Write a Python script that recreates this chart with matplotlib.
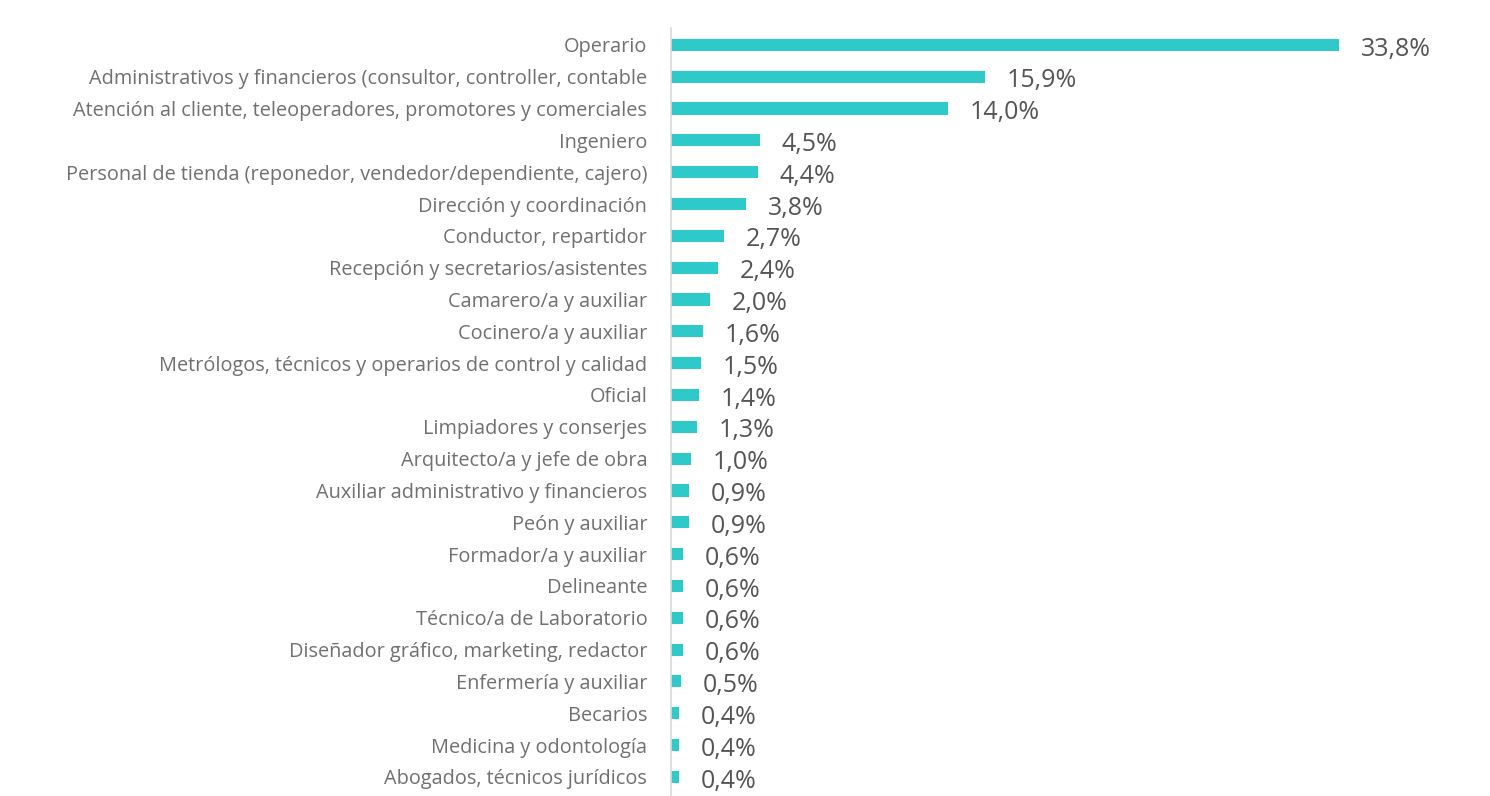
import matplotlib.pyplot as plt

# Data from the chart
categories = [
    'Operario',
    'Administrativos y financieros (consultor, controller, contable',
    'Atención al cliente, teleoperadores, promotores y comerciales',
    'Ingeniero',
    'Personal de tienda (reponedor, vendedor/dependiente, cajero)',
    'Dirección y coordinación',
    'Conductor, repartidor',
    'Recepción y secretarios/asistentes',
    'Camarero/a y auxiliar',
    'Cocinero/a y auxiliar',
    'Metrólogos, técnicos y operarios de control y calidad',
    'Oficial',
    'Limpiadores y conserjes',
    'Arquitecto/a y jefe de obra',
    'Auxiliar administrativo y financieros',
    'Peón y auxiliar',
    'Formador/a y auxiliar',
    'Delineante',
    'Técnico/a de Laboratorio',
    'Diseñador gráfico, marketing, redactor',
    'Enfermería y auxiliar',
    'Becarios',
    'Medicina y odontología',
    'Abogados, técnicos jurídicos',
]
percentages = [33.8, 15.9, 14.0, 4.5, 4.4, 3.8, 2.7, 2.4, 2.0, 1.6, 1.5, 1.4,
               1.3, 1.0, 0.9, 0.9, 0.6, 0.6, 0.6, 0.6, 0.5, 0.4, 0.4, 0.4]

plt.rcParams['font.family'] = ['Open Sans', 'DejaVu Sans']

fig = plt.figure(figsize=(14.9, 7.96), dpi=100)
ax = fig.add_axes([0.4503, 0.0, 0.5497, 0.965])

y = list(range(len(categories)))
bars = ax.barh(y, percentages, height=0.38, color='#2ec9c9')

# value labels to the right of each bar
for bar, pct in zip(bars, percentages):
    ax.text(bar.get_width() + 1.1, bar.get_y() + bar.get_height() / 2 + 0.13,
            f'{pct:.1f}%'.replace('.', ','), va='center', ha='left',
            fontsize=18, color='#555555')

ax.set_yticks(y)
ax.set_yticklabels(categories, fontsize=14.3, color='#707070')
ax.tick_params(axis='y', length=0, pad=17)
ax.set_xticks([])
ax.set_xlim(0, 41.45)
ax.set_ylim(23.6, -0.535)

for side in ['top', 'right', 'bottom']:
    ax.spines[side].set_visible(False)
ax.spines['left'].set_color('#d9d9d9')
ax.spines['left'].set_linewidth(1.2)

plt.savefig('out.png', dpi=100)
